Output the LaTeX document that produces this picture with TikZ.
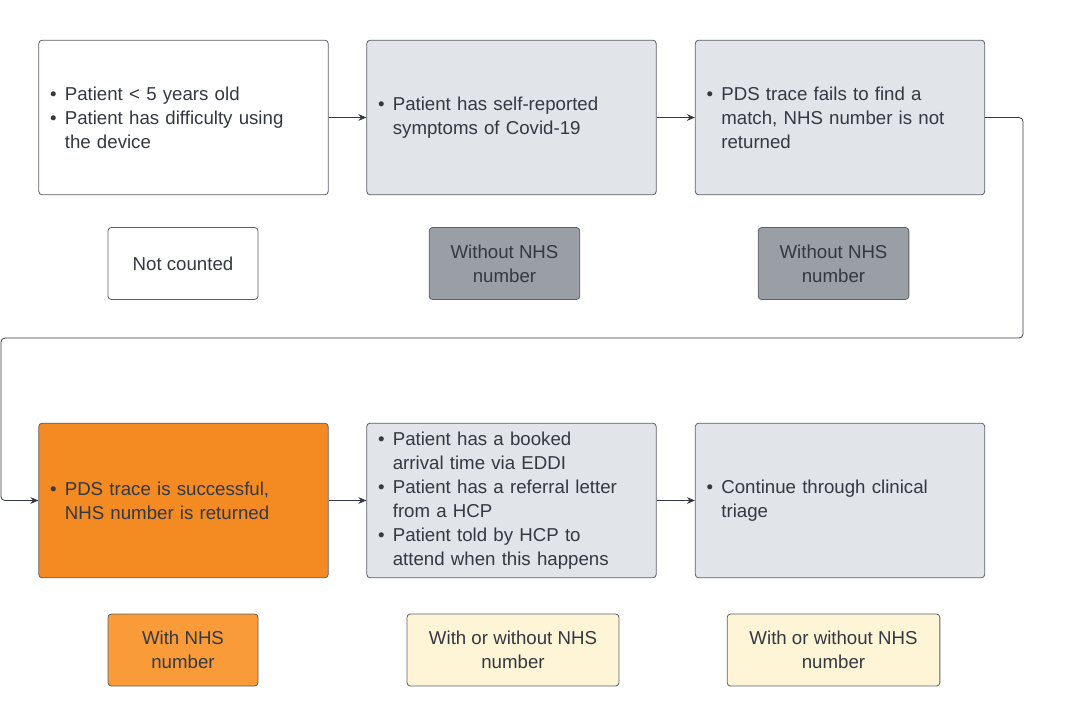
\documentclass[tikz,border=0pt]{standalone}
\usepackage{fontspec}
\setmainfont{Liberation Sans}
\usetikzlibrary{arrows.meta}
\definecolor{gbox}{HTML}{E1E4E8}
\definecolor{dgbox}{HTML}{9A9EA5}
\definecolor{obox}{HTML}{F38A22}
\definecolor{oboxl}{HTML}{F99B38}
\definecolor{cream}{HTML}{FEF5D6}
\definecolor{txt}{HTML}{333842}
\definecolor{edge}{HTML}{5A5F68}
\begin{document}
\begin{tikzpicture}[x=0.75pt,y=-0.75pt,
 box/.style={draw=edge,line width=0.6pt,rounded corners=2.5pt,minimum width=217pt,minimum height=116pt,text width=200pt,align=left,font=\fontsize{14}{18}\selectfont,text=txt,inner sep=0pt},
 sm/.style={draw=edge,line width=0.6pt,rounded corners=2.5pt,minimum height=54pt,align=center,font=\fontsize{14}{18}\selectfont,text=txt,inner sep=0pt},
 arr/.style={draw=txt,line width=0.6pt,-{Stealth[length=6pt,width=5pt]}}]
\useasboundingbox (0,0) rectangle (1069,726);
\newcommand{\bl}{\makebox[11pt][l]{•}}
\newcommand{\ind}{\hspace*{11pt}}
\node[box,fill=white] (a) at (183.5,117.5) {\bl Patient < 5 years old\\\bl Patient has difficulty using\\\ind the device};
\node[box,fill=gbox] (b) at (511.5,117.5) {\bl Patient has self-reported\\\ind symptoms of Covid-19\\[8pt]};
\node[box,fill=gbox] (c) at (840,117.5) {\bl PDS trace fails to find a\\\ind match, NHS number is not\\\ind returned};
\node[sm,fill=white,minimum width=112.5pt] (sa) at (183,263.5) {Not counted};
\node[sm,fill=dgbox,minimum width=113pt] (sb) at (504.5,263.5) {Without NHS\\number};
\node[sm,fill=dgbox,minimum width=113pt] (sc) at (833.5,263.5) {Without NHS\\number};
\node[box,fill=obox] (d) at (183.5,500.5) {\bl PDS trace is successful,\\\ind NHS number is returned};
\node[box,fill=gbox] (e) at (511.5,500.5) {\bl Patient has a booked\\\ind arrival time via EDDI\\\bl Patient has a referral letter\\\ind from a HCP\\\bl Patient told by HCP to\\\ind attend when this happens};
\node[box,fill=gbox] (f) at (840,500.5) {\bl Continue through clinical\\\ind triage};
\node[sm,fill=oboxl,minimum width=112.5pt] (sd) at (183,650) {With NHS\\number};
\node[sm,fill=cream,minimum width=159pt] (se) at (513,650) {With or without NHS\\number};
\node[sm,fill=cream,minimum width=159.5pt] (sf) at (833.5,650) {With or without NHS\\number};
\draw[arr] (a) -- (b);
\draw[arr] (b) -- (c);
\draw[arr] (d) -- (e);
\draw[arr] (e) -- (f);
\coordinate (t1) at (1023,117.5);
\coordinate (t2) at (1,338);
\draw[arr,rounded corners=3pt] (c.east) -- (t1) -- (1023,338) -- (t2) -- (1,500.5) -- (d.west);
\end{tikzpicture}
\end{document}
